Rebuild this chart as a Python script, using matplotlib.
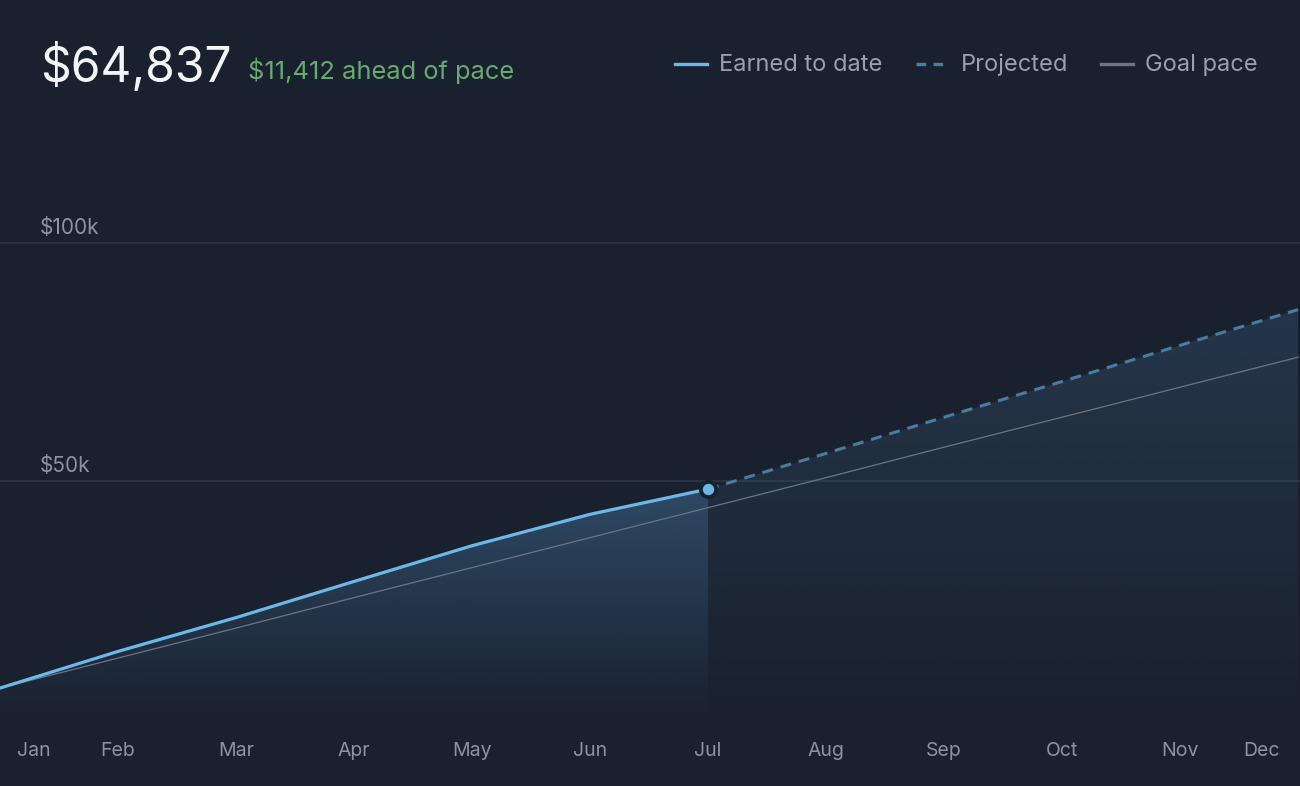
import numpy as np
from matplotlib import pyplot as plt
from matplotlib import transforms
from matplotlib.colors import to_rgb
from matplotlib.lines import Line2D

plt.rcParams['font.family'] = ['Inter', 'DejaVu Sans']

# data (values in $k)
months = ["Jan", "Feb", "Mar", "Apr", "May", "Jun", "Jul", "Aug", "Sep", "Oct", "Nov", "Dec"]
earned = [6.5, 14.2, 21.3, 28.9, 36.4, 43.0, 48.3]
projected = [48.3, 55.8, 63.4, 70.9, 78.5, 86.0]
goal = [6.5, 12.8, 19.1, 25.5, 31.8, 38.1, 44.4, 50.7, 57.1, 63.4, 69.7, 76.0]
y_ticks = [50, 100]
y_tick_labels = ["$50k", "$100k"]
total_text = "$64,837"
ahead_text = "$11,412 ahead of pace"

BG = "#19212e"
EARNED_C = "#6db8e8"
PROJ_C = "#4a7ba0"
GOAL_C = "#6b7584"
GRID_C = "#2a3646"
LABEL_C = "#8b94a2"

W, H = 1300, 786
fig = plt.figure(figsize=(W / 100, H / 100), dpi=100)
fig.patch.set_facecolor(BG)

# axes: x 0..11 spans 0..1298 px, y zero at 719 px, 4.76 px per $k
top_px, zero_px = 110, 719
ax = fig.add_axes([0, (H - zero_px) / H, 1, (zero_px - top_px) / H])
ax.set_facecolor(BG)
ax.set_xlim(0, 11 * W / 1298)
ax.set_ylim(0, (zero_px - top_px) / 4.76)
for s in ax.spines.values():
    s.set_visible(False)
ax.set_xticks([])
ax.set_yticks([])

x_earned = np.arange(len(earned))
x_proj = np.arange(len(earned) - 1, len(earned) - 1 + len(projected))
x_goal = np.arange(len(goal))

# gridlines and y labels
for v, lab in zip(y_ticks, y_tick_labels):
    ax.axhline(v, color=GRID_C, lw=1.2, zorder=1)
    ax.text(40 / W * ax.get_xlim()[1], v + 1.0, lab, color=LABEL_C, fontsize=15,
            ha='left', va='bottom', zorder=2)


def gradient_fill(x, y, color, a_top, a_bot, z):
    poly = ax.fill_between(x, y, 0, color='none', lw=0)
    rgb = to_rgb(color)
    n = 256
    img = np.zeros((n, 1, 4))
    img[:, 0, :3] = rgb
    img[:, 0, 3] = np.linspace(a_top, a_bot, n)
    ymax = max(y)
    im = ax.imshow(img, aspect='auto', extent=[min(x), max(x), 0, ymax],
                   origin='upper', zorder=z)
    path = poly.get_paths()[0]
    im.set_clip_path(path, transform=ax.transData)


gradient_fill(x_earned, earned, "#4f86b8", 0.40, 0.0, 2)
gradient_fill(x_proj, projected, "#3a5878", 0.38, 0.0, 2)

ax.plot(x_goal, goal, color=GOAL_C, lw=0.9, zorder=3)
ax.plot(x_proj, projected, color=PROJ_C, lw=2.2, dashes=(3.6, 2.6), zorder=4)
ax.plot(x_earned, earned, color=EARNED_C, lw=2.3, zorder=5,
        solid_capstyle='round', solid_joinstyle='round')
ax.plot(x_earned[-1], earned[-1], 'o', ms=11, color=EARNED_C, mec=BG, mew=2.8, zorder=6)

# month labels
for i, m in enumerate(months):
    trans = transforms.blended_transform_factory(ax.transData, ax.transAxes)
    ha = 'center'
    dx = 0
    if i == 0:
        ha, dx = 'left', 17
    elif i == len(months) - 1:
        ha, dx = 'right', -18
    t = transforms.offset_copy(trans, fig=fig, x=dx * 0.72, y=-32 * 0.72, units='points')
    ax.text(i, 0, m, transform=t, ha=ha, va='center', color=LABEL_C, fontsize=14)

# header
fig.text(40 / W, 1 - 82 / H, total_text, color="#f3f5f8", fontsize=34.5,
         ha='left', va='baseline')
fig.text(248 / W, 1 - 79 / H, ahead_text, color="#6aa874", fontsize=18.3,
         ha='left', va='baseline')

# legend
leg = [("Earned to date", EARNED_C, '-', 675, 719),
       ("Projected", PROJ_C, '--', 916, 961),
       ("Goal pace", GOAL_C, '-', 1101, 1145)]
for name, c, ls, x0, xt in leg:
    ly = 1 - 64 / H
    if ls == '--':
        fig.add_artist(Line2D([x0 / W, (x0 + 32) / W], [ly, ly], color=c, lw=2.4,
                              dashes=(2.9, 2.2)))
    else:
        fig.add_artist(Line2D([x0 / W, (x0 + 32) / W], [ly, ly], color=c, lw=2.4))
    fig.text(xt / W, 1 - 71 / H, name, color="#98a1ae", fontsize=17,
             ha='left', va='baseline')

fig.savefig("out.png", dpi=100, facecolor=BG)
